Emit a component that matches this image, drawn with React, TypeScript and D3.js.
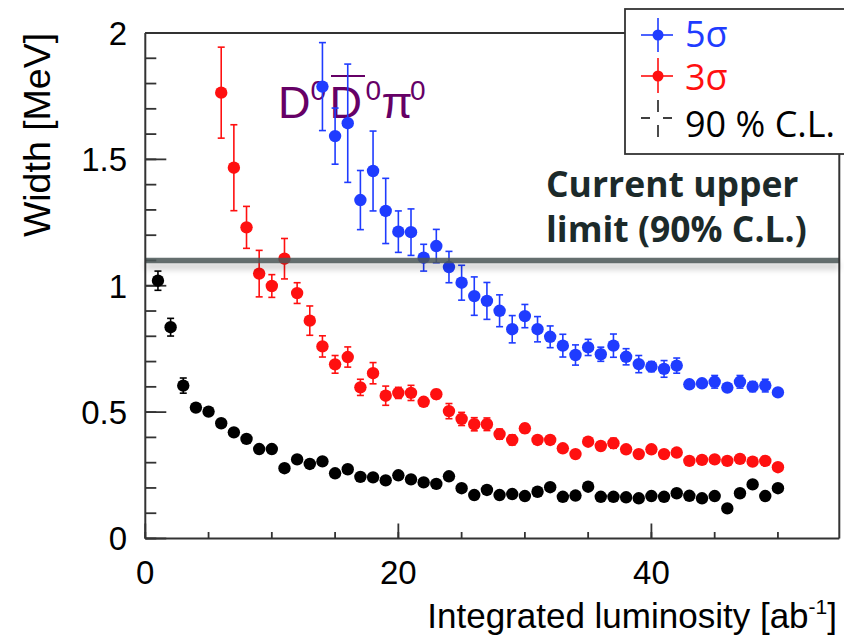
import React from "react";
import * as d3 from "d3";

// Integrated luminosity points (ab^-1)
const lumiBlack = [1,2,3,4,5,6,7,8,9,10,11,12,13,14,15,16,17,18,19,20,21,22,23,24,25,26,27,28,29,30,31,32,33,34,35,36,37,38,39,40,41,42,43,44,45,46,47,48,49,50];
const lumiRed = [6,7,8,9,10,11,12,13,14,15,16,17,18,19,20,21,22,23,24,25,26,27,28,29,30,31,32,33,34,35,36,37,38,39,40,41,42,43,44,45,46,47,48,49,50];
const lumiBlue = [14,15,16,17,18,19,20,21,22,23,24,25,26,27,28,29,30,31,32,33,34,35,36,37,38,39,40,41,42,43,44,45,46,47,48,49,50];

// 90% C.L. upper limit on the width (MeV)
const widthCL = [1.02,0.836,0.605,0.518,0.502,0.456,0.42,0.394,0.354,0.354,0.278,0.313,0.295,0.305,0.258,0.274,0.244,0.242,0.23,0.25,0.234,0.222,0.216,0.246,0.199,0.172,0.192,0.172,0.176,0.168,0.185,0.203,0.165,0.17,0.205,0.165,0.165,0.163,0.159,0.168,0.165,0.179,0.169,0.159,0.168,0.119,0.179,0.214,0.168,0.199];
const errCL = [0.038,0.035,0.03,0.012,0.01,0.01,0.01,0.01,0.01,0.01,0.01,0.01,0.01,0.01,0.01,0.01,0.01,0.01,0.01,0.01,0.01,0.01,0.01,0.01,0.01,0.01,0.01,0.01,0.01,0.01,0.01,0.01,0.01,0.01,0.01,0.01,0.01,0.01,0.01,0.01,0.01,0.01,0.01,0.01,0.01,0.01,0.01,0.01,0.01,0.01];

// 3 sigma evidence
const width3s = [1.764,1.467,1.231,1.048,0.999,1.107,0.971,0.862,0.76,0.689,0.718,0.598,0.654,0.565,0.576,0.576,0.541,0.571,0.504,0.473,0.452,0.452,0.413,0.39,0.436,0.39,0.39,0.357,0.334,0.383,0.366,0.377,0.353,0.334,0.353,0.334,0.34,0.307,0.311,0.313,0.307,0.315,0.304,0.307,0.282];
const err3s = [0.18,0.17,0.083,0.092,0.045,0.08,0.041,0.058,0.042,0.035,0.04,0.032,0.042,0.038,0.022,0.03,0.015,0.018,0.03,0.026,0.026,0.025,0.02,0.02,0.018,0.015,0.015,0.014,0.014,0.014,0.014,0.02,0.014,0.014,0.014,0.014,0.014,0.012,0.012,0.012,0.012,0.012,0.012,0.012,0.012];

// 5 sigma discovery
const width5s = [1.788,1.592,1.643,1.339,1.454,1.296,1.214,1.212,1.111,1.157,1.074,1.012,0.959,0.94,0.901,0.828,0.88,0.828,0.798,0.763,0.726,0.756,0.729,0.763,0.719,0.69,0.68,0.671,0.684,0.61,0.614,0.62,0.597,0.62,0.601,0.605,0.578];
const err5s = [0.174,0.111,0.234,0.117,0.158,0.129,0.082,0.092,0.053,0.066,0.062,0.069,0.076,0.073,0.063,0.054,0.046,0.05,0.043,0.045,0.04,0.032,0.028,0.046,0.032,0.034,0.02,0.033,0.03,0.015,0.015,0.025,0.012,0.025,0.02,0.025,0.012];

const currentLimit = 1.1;

const yTickLabels = ["0", "0.5", "1", "1.5", "2"];
const xTickLabels = ["0", "20", "40"];

const BLUE = "#1f3cff";
const RED = "#ff1010";
const BLACK = "#000000";
const FRAME = "#333333";

const x = d3.scaleLinear().domain([0, 54.85]).range([145.3, 839.3]);
const y = d3.scaleLinear().domain([0, 2]).range([538.5, 33]);

type Pt = { l: number; v: number; e: number };

function zip(ls: number[], vs: number[], es: number[]): Pt[] {
  return ls.map((l, i) => ({ l, v: vs[i], e: es[i] }));
}

function Series({ pts, color }: { pts: Pt[]; color: string }) {
  return (
    <g>
      {pts.map((p, i) => {
        const cx = x(p.l);
        const y1 = y(p.v + p.e);
        const y2 = y(p.v - p.e);
        return (
          <g key={i}>
            <line x1={cx} x2={cx} y1={y1} y2={y2} stroke={color} strokeWidth={1.6} />
            <line x1={cx - 3.5} x2={cx + 3.5} y1={y1} y2={y1} stroke={color} strokeWidth={1.6} />
            <line x1={cx - 3.5} x2={cx + 3.5} y1={y2} y2={y2} stroke={color} strokeWidth={1.6} />
            <circle cx={cx} cy={y(p.v)} r={6.2} fill={color} />
          </g>
        );
      })}
    </g>
  );
}

export default function App() {
  const black = zip(lumiBlack, widthCL, errCL);
  const red = zip(lumiRed, width3s, err3s);
  const blue = zip(lumiBlue, width5s, err5s);

  const yMinor = d3.range(0, 2.0001, 0.1);
  const xMinor = d3.range(0, 51, 5);
  const yMajor = [0, 0.5, 1, 1.5, 2];
  const xMajor = [0, 20, 40];

  const left = x(0);
  const right = x(54.85);
  const top = y(2);
  const bottom = y(0);
  const yl = y(currentLimit);

  return (
    <svg
      width={844}
      height={638}
      style={{ position: "absolute", left: 0, top: 0, background: "#fff" }}
      fontFamily="'Liberation Sans', Arial, sans-serif"
    >
      <defs>
        <filter id="soft" x="-5%" y="-200%" width="110%" height="500%">
          <feGaussianBlur stdDeviation="3" />
        </filter>
      </defs>

      {/* ticks */}
      {yMinor.map((t, i) => (
        <line key={"ym" + i} x1={left} x2={left + 11} y1={y(t)} y2={y(t)} stroke={FRAME} strokeWidth={1.8} />
      ))}
      {yMajor.map((t, i) => (
        <line key={"yM" + i} x1={left} x2={left + 21} y1={y(t)} y2={y(t)} stroke={FRAME} strokeWidth={1.8} />
      ))}
      {xMinor.map((t, i) => (
        <line key={"xm" + i} x1={x(t)} x2={x(t)} y1={bottom} y2={bottom - 6.5} stroke={FRAME} strokeWidth={1.8} />
      ))}
      {xMajor.map((t, i) => (
        <line key={"xM" + i} x1={x(t)} x2={x(t)} y1={bottom} y2={bottom - 15} stroke={FRAME} strokeWidth={1.8} />
      ))}

      {/* tick labels */}
      {yMajor.map((t, i) => (
        <text key={"yl" + i} x={127} y={y(t)} dy="0.36em" textAnchor="end" fontSize={33} fill="#000">
          {yTickLabels[i]}
        </text>
      ))}
      {xMajor.map((t, i) => (
        <text key={"xl" + i} x={x(t)} y={583.5} textAnchor="middle" fontSize={33} fill="#000">
          {xTickLabels[i]}
        </text>
      ))}

      {/* axis titles */}
      <text transform={`translate(50,135) rotate(-90)`} textAnchor="middle" fontSize={37.5} fill="#000">
        Width [MeV]
      </text>
      <text x={837} y={628} textAnchor="end" fontSize={35} fill="#000">
        Integrated luminosity [ab
        <tspan dy={-14} fontSize={21}>-1</tspan>
        <tspan dy={14} fontSize={35}>]</tspan>
      </text>

      {/* channel label */}
      <g fill="#660066" fontSize={45}>
        <text y={118}>
          <tspan x={278}>D</tspan>
          <tspan x={310.5} y={100} fontSize={28}>0</tspan>
          <tspan x={329.5} y={118}>D</tspan>
          <tspan x={365.5} y={100} fontSize={28}>0</tspan>
          <tspan x={381.5} y={118}>π</tspan>
          <tspan x={410} y={100} fontSize={28}>0</tspan>
        </text>
        <line x1={331} x2={365} y1={76} y2={76} stroke="#660066" strokeWidth={2} />
      </g>

      {/* data */}
      <Series pts={black} color={BLACK} />
      <Series pts={red} color={RED} />
      <Series pts={blue} color={BLUE} />

      {/* current upper limit */}
      <rect x={left} y={yl + 2} width={right - left} height={7} fill="#000" opacity={0.18} filter="url(#soft)" />
      <line x1={left} x2={right} y1={yl} y2={yl} stroke="#4b5757" strokeWidth={5.5} opacity={0.85} />
      <g fontFamily="'Open Sans', 'Noto Sans', sans-serif" fontWeight={700} fontSize={35.5} fill="#1c2a2a">
        <text x={546} y={197}>Current upper</text>
        <text x={546} y={242}>limit (90% C.L.)</text>
      </g>

      {/* frame */}
      <line x1={left} x2={left} y1={top} y2={bottom} stroke={FRAME} strokeWidth={2} />
      <line x1={left} x2={right} y1={bottom} y2={bottom} stroke={FRAME} strokeWidth={2} />
      <line x1={left} x2={right} y1={top} y2={top} stroke={FRAME} strokeWidth={2} />
      <line x1={right} x2={right} y1={top} y2={bottom} stroke={FRAME} strokeWidth={2} />

      {/* legend */}
      <rect x={625} y={9} width={230} height={145} fill="#fff" stroke={FRAME} strokeWidth={1.8} />
      <g fontFamily="'Open Sans', 'Noto Sans', sans-serif" fontSize={36}>
        <line x1={641} x2={673} y1={35} y2={35} stroke={BLUE} strokeWidth={1.6} />
        <line x1={658} x2={658} y1={18} y2={52} stroke={BLUE} strokeWidth={1.6} />
        <circle cx={658} cy={35} r={5.5} fill={BLUE} />
        <text x={685} y={47} fill={BLUE}>5σ</text>

        <line x1={641} x2={673} y1={76} y2={76} stroke={RED} strokeWidth={1.6} />
        <line x1={658} x2={658} y1={58} y2={93} stroke={RED} strokeWidth={1.6} />
        <circle cx={658} cy={76} r={5.5} fill={RED} />
        <text x={685} y={90} fill={RED}>3σ</text>

        <line x1={641} x2={673} y1={118} y2={118} stroke={BLACK} strokeWidth={1.4} strokeDasharray="9 13" />
        <line x1={658} x2={658} y1={100} y2={137} stroke={BLACK} strokeWidth={1.4} strokeDasharray="12 13" />
        <text x={685} y={136.5} fill={BLACK}>90 % C.L.</text>
      </g>
    </svg>
  );
}
